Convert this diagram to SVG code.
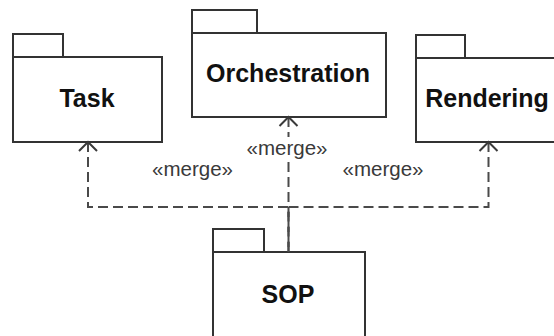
<svg xmlns="http://www.w3.org/2000/svg" width="554" height="336" viewBox="0 0 554 336">
  <style>
    .pkg rect { fill: #ffffff; stroke: #333333; stroke-width: 2; }
    .name { font-family: "Liberation Sans", Arial, sans-serif; font-weight: bold; font-size: 25px; fill: #111111; text-anchor: middle; }
    .dep { fill: none; stroke: #4a4a4a; stroke-width: 2; stroke-dasharray: 10 5; }
    .head { fill: none; stroke: #3a3a3a; stroke-width: 2; }
    .stereo { font-family: "Liberation Sans", Arial, sans-serif; font-size: 20px; fill: #3a3a3a; text-anchor: middle; }
  </style>

  <rect width="554" height="336" fill="#ffffff"/>

  <g id="task" class="pkg">
    <rect x="13" y="34" width="50" height="23"/>
    <rect x="13" y="57" width="149" height="85"/>
    <text class="name" x="87" y="107">Task</text>
  </g>

  <g id="orchestration" class="pkg">
    <rect x="192" y="10" width="65" height="23"/>
    <rect x="192" y="33" width="194" height="84"/>
    <text class="name" x="288" y="82">Orchestration</text>
  </g>

  <g id="rendering" class="pkg">
    <rect x="416" y="35" width="49" height="23"/>
    <rect x="416" y="58" width="142" height="84"/>
    <text class="name" x="487" y="107">Rendering</text>
  </g>

  <g id="sop" class="pkg">
    <rect x="213" y="229" width="51" height="23"/>
    <rect x="213" y="252" width="152" height="90"/>
    <text class="name" x="288" y="303">SOP</text>
  </g>

  <g id="connectors">
    <!-- «merge» dependencies from SOP, drawn from the arrow end -->
    <path class="dep" d="M88,142 V207 H288.5 V252"/>
    <path class="dep" d="M488.5,142 V207 H288.5 V252"/>
    <path class="dep" d="M288.5,117 V252"/>
    <!-- open arrowheads at the merged packages -->
    <path class="head" d="M79,151 L88,142 L97,151"/>
    <path class="head" d="M279.5,126 L288.5,117 L297.5,126"/>
    <path class="head" d="M479.5,151 L488.5,142 L497.5,151"/>
    <rect x="244" y="137" width="88" height="24" fill="#ffffff"/>
    <text class="stereo" x="287" y="155" textLength="81" lengthAdjust="spacingAndGlyphs">«merge»</text>
    <text class="stereo" x="192.5" y="176" textLength="81" lengthAdjust="spacingAndGlyphs">«merge»</text>
    <text class="stereo" x="383" y="176" textLength="81" lengthAdjust="spacingAndGlyphs">«merge»</text>
  </g>
</svg>
